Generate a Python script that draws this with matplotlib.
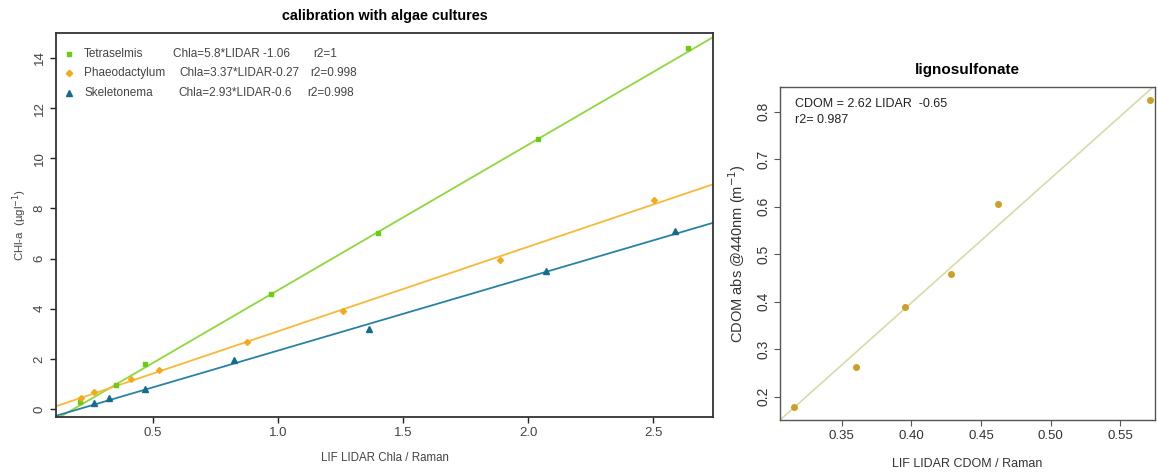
import matplotlib.pyplot as plt
import numpy as np

plt.rcParams['font.family'] = ['Liberation Sans', 'DejaVu Sans']

# Algae cultures: LIDAR ratio vs measured Chl-a
tetra_x = [0.209, 0.352, 0.469, 0.972, 1.401, 2.039, 2.641]
tetra_y = [0.29, 0.96, 1.78, 4.59, 7.01, 10.76, 14.39]
phaeo_x = [0.21, 0.265, 0.412, 0.523, 0.875, 1.259, 1.888, 2.505]
phaeo_y = [0.42, 0.69, 1.18, 1.56, 2.69, 3.91, 5.94, 8.34]
skel_x = [0.265, 0.325, 0.469, 0.825, 1.365, 2.072, 2.588]
skel_y = [0.23, 0.45, 0.79, 1.95, 3.19, 5.52, 7.10]

# fitted calibration lines (slope, intercept)
tetra_fit = (5.8, -1.06)
phaeo_fit = (3.37, -0.27)
skel_fit = (2.93, -0.6)

# Lignosulfonate CDOM calibration
cdom_x = [0.3157, 0.360, 0.3955, 0.4284, 0.462, 0.5714]
cdom_y = [0.178, 0.262, 0.388, 0.458, 0.606, 0.826]
cdom_fit = (2.62, -0.65)

green = '#6ccb12'
green_line = '#8ed83c'
orange = '#f5a81c'
orange_line = '#f9b838'
blue = '#136c8c'
blue_line = '#2a82a3'
gold = '#c9a127'
pale = '#d9d9a8'
tick_col = '#444444'

fig = plt.figure(figsize=(11.57, 4.72), dpi=100)
ax1 = fig.add_axes([0.0484, 0.1165, 0.5679, 0.8136])
ax2 = fig.add_axes([0.6742, 0.1102, 0.3243, 0.7061])

# --- left panel ---
ax1.axline((0, tetra_fit[1]), slope=tetra_fit[0], color=green_line, lw=1.3)
ax1.axline((0, phaeo_fit[1]), slope=phaeo_fit[0], color=orange_line, lw=1.3)
ax1.axline((0, skel_fit[1]), slope=skel_fit[0], color=blue_line, lw=1.3)
ax1.plot(tetra_x, tetra_y, 's', color=green, ms=3.5)
ax1.plot(phaeo_x, phaeo_y, 'D', color=orange, ms=3)
ax1.plot(skel_x, skel_y, '^', color=blue, ms=4)

ax1.set_xlim(0.112, 2.74)
ax1.set_ylim(-0.32, 15.0)
ax1.set_xticks([0.5, 1.0, 1.5, 2.0, 2.5])
ax1.set_yticks(np.arange(0, 15, 2))
ax1.tick_params(axis='both', labelsize=9.5, colors='#222222', labelcolor=tick_col,
                length=4, width=1)
ax1.tick_params(axis='y', labelrotation=90)
for lbl in ax1.get_yticklabels():
    lbl.set_va('center')
for sp in ax1.spines.values():
    sp.set_linewidth(1.3)
    sp.set_color('#333333')

ax1.set_xlabel('LIF LIDAR Chla / Raman', fontsize=8.3, color=tick_col, labelpad=9)
ax1.set_ylabel('CHl-a  (µgl$^{-1}$)', fontsize=8.2, color=tick_col, labelpad=3)
ax1.set_title('calibration with algae cultures', fontsize=10.4, fontweight='bold', pad=9)

# legend block with fit equations
rows = [
    ('s', green, 'Tetraselmis', 'Chla=5.8*LIDAR -1.06', 'r2=1', 173, 313),
    ('D', orange, 'Phaeodactylum', 'Chla=3.37*LIDAR-0.27', 'r2=0.998', 179, 310),
    ('^', blue, 'Skeletonema', 'Chla=2.93*LIDAR-0.6', 'r2=0.998', 178, 307),
]
px_w = 657.0
for i, (m, c, name, eq, r2, eq_px, r2_px) in enumerate(rows):
    yy = 1 - (21 + 19.5 * i) / 384.0
    ax1.plot([13 / px_w], [yy], m, color=c, ms=3.2 if m != '^' else 3.8,
             transform=ax1.transAxes, clip_on=False)
    ax1.text(28 / px_w, yy, name, transform=ax1.transAxes, fontsize=8.5,
             color=tick_col, va='center')
    ax1.text((eq_px - 56) / px_w, yy, eq, transform=ax1.transAxes,
             fontsize=8.5, color=tick_col, va='center')
    ax1.text((r2_px - 56) / px_w, yy, r2, transform=ax1.transAxes,
             fontsize=8.5, color=tick_col, va='center')

# --- right panel ---
ax2.axline((0, cdom_fit[1]), slope=cdom_fit[0], color=pale, lw=1.2)
ax2.plot(cdom_x, cdom_y, 'o', color=gold, ms=4)
ax2.set_xlim(0.3057, 0.575)
ax2.set_ylim(0.151, 0.853)
ax2.set_xticks([0.35, 0.40, 0.45, 0.50, 0.55])
ax2.set_yticks([0.2, 0.3, 0.4, 0.5, 0.6, 0.7, 0.8])
ax2.tick_params(axis='both', labelsize=9.5, colors='#555555', labelcolor='#333333',
                length=4, width=0.8, pad=3)
ax2.tick_params(axis='y', labelrotation=90, labelsize=10)
for lbl in ax2.get_yticklabels():
    lbl.set_va('center')
for sp in ax2.spines.values():
    sp.set_linewidth(1.0)
    sp.set_color('#555555')

ax2.set_xlabel('LIF LIDAR CDOM / Raman', fontsize=9, color='#333333', labelpad=12)
ax2.set_ylabel('CDOM abs @440nm (m$^{-1}$)', fontsize=10.5, color='#333333', labelpad=6)
ax2.set_title('lignosulfonate', fontsize=11, fontweight='bold', pad=9)
ax2.text(0.04, 0.965, 'CDOM = 2.62 LIDAR  -0.65\nr2= 0.987', transform=ax2.transAxes,
         fontsize=9, color='#222222', va='top', linespacing=1.45)

fig.savefig('out.png', dpi=100)
